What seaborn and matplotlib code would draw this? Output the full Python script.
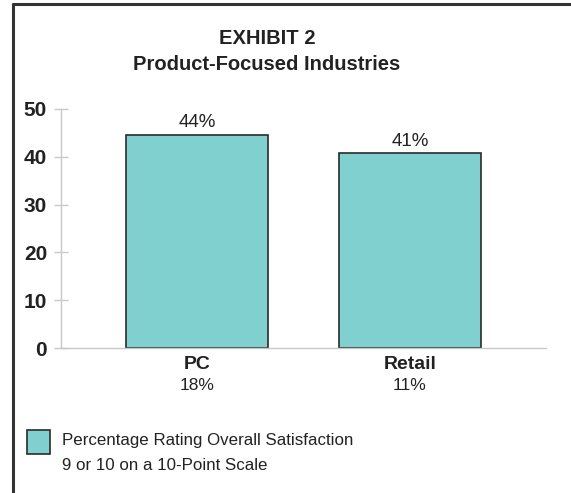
import matplotlib
matplotlib.use("Agg")
import matplotlib.pyplot as plt
from matplotlib.lines import Line2D
from matplotlib.patches import Rectangle
import matplotlib.transforms as mtransforms
import seaborn as sns
import pandas as pd

# data
industries = ["PC", "Retail"]
satisfaction = [44.6, 40.7]
bar_labels = ["44%", "41%"]
sub_labels = ["18%", "11%"]
yticks = [0, 10, 20, 30, 40, 50]

sns.set_style("white")
plt.rcParams["font.family"] = ["Liberation Sans", "DejaVu Sans"]

bar_color = "#80d0d0"
edge_color = "#2b2b2b"
text_color = "#222222"

df = pd.DataFrame({"industry": industries, "value": satisfaction})

fig = plt.figure(figsize=(5.71, 4.93), dpi=100)
W, H = 571, 493
ax = fig.add_axes([61 / W, 1 - 348 / H, (546 - 61) / W, (348 - 109) / H])

sns.barplot(data=df, x="industry", y="value", color=bar_color, edgecolor=edge_color,
            linewidth=1.2, width=0.667, saturation=1, ax=ax)

ax.set_ylim(0, 50)
ax.set_xlim(-0.64, 1.64)
ax.set_xlabel("")
ax.set_ylabel("")

for s in ["top", "right"]:
    ax.spines[s].set_visible(False)
for s in ["left", "bottom"]:
    ax.spines[s].set_color("#c8c8c8")
    ax.spines[s].set_linewidth(1.0)

ax.set_yticks(yticks)
ax.set_yticklabels([str(t) for t in yticks], fontsize=15, fontweight="bold", color=text_color)
ax.tick_params(axis="y", left=True, direction="inout", length=10, width=1,
               color="#c8c8c8", pad=5)
ax.tick_params(axis="x", bottom=False, length=0, pad=6)
ax.set_xticks([0, 1])
ax.set_xticklabels(industries, fontsize=14, fontweight="bold", color=text_color)

# sublabels under categories
trans = mtransforms.blended_transform_factory(ax.transData, ax.transAxes)
for i, s in enumerate(sub_labels):
    ax.text(i, -38 / 239, s, transform=trans, ha="center", va="center",
            fontsize=12.5, color=text_color)

# value labels above bars
for i, (v, lab) in enumerate(zip(satisfaction, bar_labels)):
    ax.text(i, v + 0.8, lab, ha="center", va="bottom", fontsize=13.5, color=text_color)

# title
fig.text(267 / W, 1 - 38 / H, "EXHIBIT 2", ha="center", va="center",
         fontsize=14.5, fontweight="bold", color=text_color)
fig.text(267 / W, 1 - 64 / H, "Product-Focused Industries", ha="center", va="center",
         fontsize=14.5, fontweight="bold", color=text_color)

# legend
fig.add_artist(Rectangle((27 / W, 1 - 454 / H), 23 / W, 24 / H, transform=fig.transFigure,
                         facecolor=bar_color, edgecolor=edge_color, linewidth=1.2))
fig.text(62 / W, 1 - 440 / H, "Percentage Rating Overall Satisfaction", ha="left", va="center",
         fontsize=12.2, color=text_color)
fig.text(62 / W, 1 - 465 / H, "9 or 10 on a 10-Point Scale", ha="left", va="center",
         fontsize=12.2, color=text_color)

# frame border (left and top)
fig.add_artist(Line2D([13 / W, 13 / W], [0, 1 - 4 / H], transform=fig.transFigure,
                      color="#333333", linewidth=2.2))
fig.add_artist(Line2D([13 / W, 1], [1 - 4 / H, 1 - 4 / H], transform=fig.transFigure,
                      color="#333333", linewidth=2.2))

fig.savefig("out.png", dpi=100)
